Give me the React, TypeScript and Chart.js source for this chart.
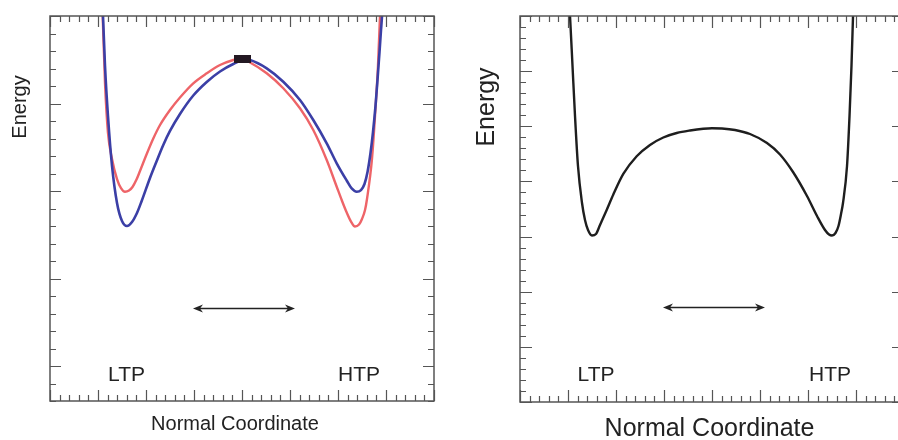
import React, { useEffect, useRef } from "react";
import { Chart, registerables } from "chart.js";

Chart.register(...registerables);

// ---------------- Data: left panel (two-coloured double well) ----------------
const leftRedX = [-2.923, -2.902, -2.854, -2.792, -2.708, -2.604, -2.521, -2.438, -2.354, -2.281, -2.198, -2.125, -1.985, -1.848, -1.708, -1.5, -1.292, -1.015, -0.735, -0.458, -0.181, -0.042, 0.167, 0.515, 0.86, 1.208, 1.485, 1.765, 1.973, 2.077, 2.177, 2.271, 2.354, 2.438, 2.5, 2.563, 2.604, 2.708, 2.771, 2.833, 2.875, 2.9];
const leftRedY = [4.354, 4.0, 3.234, 2.663, 2.366, 2.137, 2.034, 1.992, 2.006, 2.046, 2.131, 2.229, 2.423, 2.6, 2.754, 2.926, 3.069, 3.231, 3.345, 3.44, 3.497, 3.514, 3.469, 3.345, 3.174, 2.945, 2.697, 2.354, 2.049, 1.897, 1.76, 1.651, 1.594, 1.617, 1.68, 1.783, 1.909, 2.366, 2.857, 3.429, 4.0, 4.354];

const leftBlueX = [-2.917, -2.896, -2.854, -2.792, -2.708, -2.604, -2.5, -2.396, -2.292, -2.188, -2.09, -1.917, -1.777, -1.64, -1.5, -1.292, -1.015, -0.735, -0.458, -0.181, 0.063, 0.167, 0.515, 0.86, 1.208, 1.485, 1.765, 1.973, 2.181, 2.285, 2.39, 2.479, 2.552, 2.615, 2.677, 2.729, 2.781, 2.823, 2.865, 2.896, 2.917, 2.948];
const leftBlueY = [4.354, 4.0, 3.429, 2.857, 2.286, 1.863, 1.657, 1.6, 1.646, 1.749, 1.886, 2.149, 2.343, 2.526, 2.686, 2.88, 3.091, 3.246, 3.366, 3.451, 3.503, 3.497, 3.402, 3.249, 3.04, 2.811, 2.545, 2.317, 2.12, 2.029, 1.992, 2.011, 2.08, 2.217, 2.434, 2.674, 2.971, 3.269, 3.589, 3.84, 4.0, 4.354];

const leftMarkerX = [0];
const leftMarkerY = [3.509];

const leftLabelText = ["LTP", "HTP"];
const leftLabelX = [-2.406, 2.438];
const leftLabelY = [-0.103, -0.103];
const leftArrowX = [-1.021, 1.104];
const leftArrowY = [0.663, 0.663];

// ---------------- Data: right panel (single black double well) ----------------
const rightX = [-3.0, -2.958, -2.906, -2.854, -2.792, -2.708, -2.646, -2.583, -2.5, -2.417, -2.333, -2.194, -2.056, -1.848, -1.569, -1.292, -1.015, -0.735, -0.458, -0.181, 0, 0.208, 0.479, 0.792, 1.146, 1.417, 1.688, 1.979, 2.188, 2.354, 2.438, 2.5, 2.573, 2.635, 2.688, 2.729, 2.813, 2.865, 2.906, 2.938, 2.958];
const rightY = [7.563, 7.0, 6.094, 5.187, 4.28, 3.609, 3.301, 3.119, 3.02, 3.047, 3.21, 3.482, 3.763, 4.135, 4.456, 4.661, 4.797, 4.878, 4.924, 4.955, 4.964, 4.96, 4.933, 4.86, 4.697, 4.489, 4.171, 3.736, 3.373, 3.119, 3.038, 3.02, 3.065, 3.192, 3.409, 3.609, 4.28, 5.187, 6.094, 7.0, 7.563];

const rightLabelText = ["LTP", "HTP"];
const rightLabelX = [-2.417, 2.458];
const rightLabelY = [0.49, 0.49];
const rightArrowX = [-1.021, 1.104];
const rightArrowY = [1.723, 1.723];

const yTitle = "Energy";
const xTitle = "Normal Coordinate";

const FONT = '"Liberation Sans", Arial, Helvetica, sans-serif';

const zip = (xs: number[], ys: number[]) => xs.map((x, i) => ({ x, y: ys[i] }));

const framePlugin = {
  id: "frame",
  afterDatasetsDraw(chart: any, _args: any, o: any) {
    const { ctx, chartArea: a } = chart;
    const xs = chart.scales.x;
    const ys = chart.scales.y;
    ctx.save();
    ctx.strokeStyle = o.color;
    ctx.lineWidth = o.tickWidth;
    ctx.beginPath();
    const nx = Math.round((xs.max - xs.min) / o.xMinor);
    for (let i = 0; i <= nx; i++) {
      const v = xs.min + i * o.xMinor;
      const major = Math.abs(v / o.xMajor - Math.round(v / o.xMajor)) < 1e-6;
      const L = major ? o.majorLen : o.minorLen;
      const px = Math.round(xs.getPixelForValue(v)) + 0.5;
      ctx.moveTo(px, a.bottom);
      ctx.lineTo(px, a.bottom - L);
      ctx.moveTo(px, a.top);
      ctx.lineTo(px, a.top + L);
    }
    const ny = Math.round((ys.max - ys.min) / o.yMinor);
    for (let i = 0; i <= ny; i++) {
      const v = ys.min + i * o.yMinor;
      const major = Math.abs(v / o.yMajor - Math.round(v / o.yMajor)) < 1e-6;
      const L = major ? o.majorLen : o.minorLen;
      const py = Math.round(ys.getPixelForValue(v)) + 0.5;
      ctx.moveTo(a.left, py);
      ctx.lineTo(a.left + L, py);
      ctx.moveTo(a.right, py);
      ctx.lineTo(a.right - L, py);
    }
    ctx.stroke();
    ctx.lineWidth = o.frameWidth;
    ctx.strokeRect(a.left, a.top, a.right - a.left, a.bottom - a.top);
    ctx.restore();
  },
};

const notesPlugin = {
  id: "notes",
  afterDraw(chart: any, _args: any, o: any) {
    const { ctx, chartArea: a } = chart;
    const xs = chart.scales.x;
    const ys = chart.scales.y;
    ctx.save();
    ctx.fillStyle = o.color;
    ctx.strokeStyle = o.color;
    ctx.font = `${o.labelSize}px ${FONT}`;
    ctx.textAlign = "center";
    ctx.textBaseline = "middle";
    o.labels.forEach((t: string, i: number) => {
      ctx.fillText(t, xs.getPixelForValue(o.labelX[i]), ys.getPixelForValue(o.labelY[i]));
    });
    const x1 = xs.getPixelForValue(o.arrowX[0]);
    const x2 = xs.getPixelForValue(o.arrowX[1]);
    const y = Math.round(ys.getPixelForValue(o.arrowY[0])) + 0.5;
    ctx.lineWidth = 1.4;
    ctx.beginPath();
    ctx.moveTo(x1 + 4, y);
    ctx.lineTo(x2 - 4, y);
    ctx.stroke();
    const head = (tip: number, dir: number) => {
      ctx.beginPath();
      ctx.moveTo(tip, y);
      ctx.lineTo(tip + dir * 10, y - 4);
      ctx.lineTo(tip + dir * 7, y);
      ctx.lineTo(tip + dir * 10, y + 4);
      ctx.closePath();
      ctx.fill();
    };
    head(x1, 1);
    head(x2, -1);
    ctx.font = `${o.xTitleSize}px ${FONT}`;
    ctx.fillText(o.xTitle, (a.left + a.right) / 2 + o.xTitleDx, a.bottom + o.xTitleDy);
    ctx.font = `${o.yTitleSize}px ${FONT}`;
    ctx.translate(a.left + o.yTitleDx, a.top + o.yTitleDy);
    ctx.rotate(-Math.PI / 2);
    ctx.fillText(o.yTitle, 0, 0);
    ctx.restore();
  },
};

function makeConfig(datasets: any[], p: any) {
  return {
    type: "line",
    data: { datasets },
    options: {
      animation: false,
      responsive: false,
      maintainAspectRatio: false,
      events: [],
      layout: { padding: p.padding },
      scales: {
        x: { type: "linear", min: p.xMin, max: p.xMax, display: false },
        y: { type: "linear", min: p.yMin, max: p.yMax, display: false },
      },
      plugins: {
        legend: { display: false },
        tooltip: { enabled: false },
        frame: p.frame,
        notes: p.notes,
      },
    },
    plugins: [framePlugin, notesPlugin],
  } as any;
}

export default function App() {
  const leftRef = useRef<HTMLCanvasElement>(null);
  const rightRef = useRef<HTMLCanvasElement>(null);

  useEffect(() => {
    const marker = document.createElement("canvas");
    marker.width = 17;
    marker.height = 8;
    const mctx = marker.getContext("2d")!;
    mctx.fillStyle = "#231822";
    mctx.fillRect(0, 0, 17, 8);

    const lineBase = {
      pointRadius: 0,
      cubicInterpolationMode: "monotone",
      clip: 0,
      fill: false,
      borderJoinStyle: "round",
      borderCapStyle: "round",
    };

    const left = new Chart(
      leftRef.current!,
      makeConfig(
        [
          {
            data: zip(leftMarkerX, leftMarkerY),
            showLine: false,
            pointStyle: marker,
            pointRadius: 8,
            borderWidth: 0,
            clip: false,
          },
          { ...lineBase, data: zip(leftBlueX, leftBlueY), borderColor: "#3b3fa6", borderWidth: 2.6 },
          { ...lineBase, data: zip(leftRedX, leftRedY), borderColor: "#ee6468", borderWidth: 2.4 },
        ],
        {
          padding: { left: 50, top: 16, right: 15, bottom: 39 },
          xMin: -4,
          xMax: 4,
          yMin: -0.4,
          yMax: 4,
          frame: { color: "#555", tickWidth: 1.2, frameWidth: 1.5, xMinor: 0.2, xMajor: 1, yMinor: 0.2, yMajor: 1, majorLen: 11, minorLen: 6 },
          notes: {
            color: "#222",
            labels: leftLabelText,
            labelX: leftLabelX,
            labelY: leftLabelY,
            labelSize: 21,
            arrowX: leftArrowX,
            arrowY: leftArrowY,
            xTitle,
            xTitleSize: 20,
            xTitleDx: -7,
            xTitleDy: 23,
            yTitle,
            yTitleSize: 20,
            yTitleDx: -30,
            yTitleDy: 91,
          },
        }
      )
    );

    const right = new Chart(
      rightRef.current!,
      makeConfig(
        [{ ...lineBase, data: zip(rightX, rightY), borderColor: "#1e1e1e", borderWidth: 2.4 }],
        {
          padding: { left: 71, top: 16, right: 15, bottom: 38 },
          xMin: -4,
          xMax: 4,
          yMin: 0,
          yMax: 7,
          frame: { color: "#555", tickWidth: 1.2, frameWidth: 1.5, xMinor: 0.2, xMajor: 1, yMinor: 0.2, yMajor: 1, majorLen: 12, minorLen: 6 },
          notes: {
            color: "#222",
            labels: rightLabelText,
            labelX: rightLabelX,
            labelY: rightLabelY,
            labelSize: 21,
            arrowX: rightArrowX,
            arrowY: rightArrowY,
            xTitle,
            xTitleSize: 25,
            xTitleDx: -2.5,
            xTitleDy: 27,
            yTitle,
            yTitleSize: 25,
            yTitleDx: -33,
            yTitleDy: 91,
          },
        }
      )
    );

    return () => {
      left.destroy();
      right.destroy();
    };
  }, []);

  return (
    <div
      style={{
        position: "fixed",
        left: 0,
        top: 0,
        width: 898,
        height: 440,
        overflow: "hidden",
        background: "#fff",
      }}
    >
      <canvas ref={leftRef} width={449} height={440} style={{ position: "absolute", left: 0, top: 0 }} />
      <canvas ref={rightRef} width={470} height={440} style={{ position: "absolute", left: 449, top: 0 }} />
    </div>
  );
}
